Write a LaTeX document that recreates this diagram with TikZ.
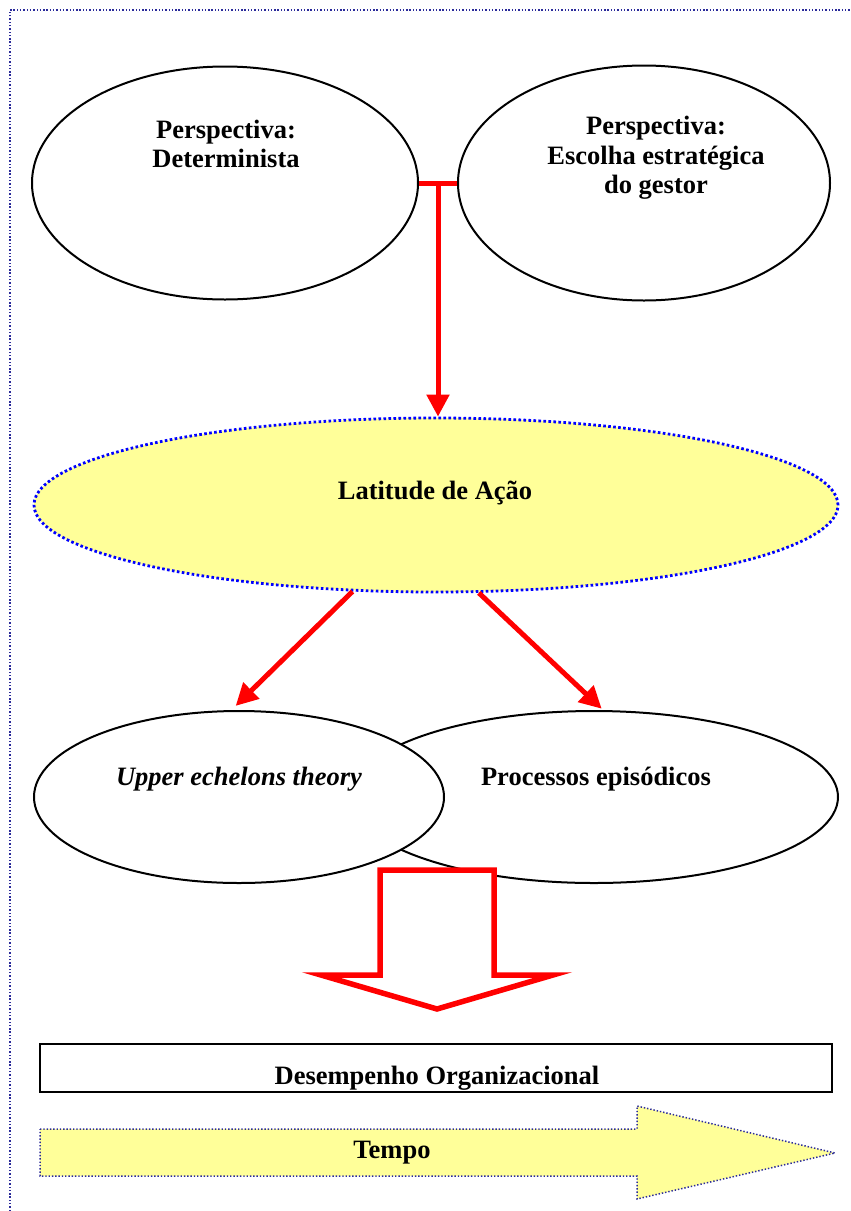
\documentclass[tikz,border=0pt]{standalone}
\usepackage{fontspec}
\setmainfont{Liberation Serif}
\usetikzlibrary{arrows.meta,shapes.geometric}

\definecolor{pagedot}{HTML}{2B2B9A}
\definecolor{latblue}{HTML}{0000FF}
\definecolor{paleyellow}{HTML}{FFFF99}
\definecolor{arrowred}{HTML}{FF0000}

\tikzset{
  bubble/.style={ellipse, draw=black, line width=2pt, fill=white, inner sep=0pt},
  caption/.style={font=\fontsize{26.5}{29.5}\selectfont\bfseries, align=center, inner sep=0pt},
  redline/.style={draw=arrowred, line width=5pt},
  redarrow/.style={redline, -{Triangle[length=22pt,width=22pt]}},
  dotframe/.style={draw=pagedot, line width=1.7pt, dash pattern=on 1.4pt off 1.9pt},
  latframe/.style={draw=latblue, line width=2.8pt, dash pattern=on 2.6pt off 2.4pt},
  blockarrow/.style={draw=arrowred, line width=5.5pt, fill=white, line join=miter},
  timearrow/.style={draw=pagedot, fill=paleyellow, line width=1.5pt, dash pattern=on 1.4pt off 1.9pt},
}

\begin{document}
\begin{tikzpicture}[x=1pt, y=-1pt]
  \useasboundingbox (0,0) rectangle (851,1211);

  % the two perspectives
  \node[bubble, minimum width=386pt, minimum height=233pt] (det) at (225,183) {};
  \node[bubble, minimum width=372pt, minimum height=235pt] (esc) at (644,183) {};
  \node[caption] (detText) at (226,144) {Perspectiva:\\Determinista};
  \node[caption] (escText) at (656,158) {Perspectiva:\\Escolha estratégica\\do gestor};

  % T-junction between the perspectives, feeding the latitude of action
  \draw[redline] (det.east) -- coordinate[midway] (tj) (esc.west);

  % latitude of action
  \node[ellipse, latframe, fill=paleyellow, inner sep=0pt,
        minimum width=804pt, minimum height=174pt] (lat) at (436,505) {};
  \node[caption] (latText) at (435,493) {Latitude de Ação};

  \draw[redarrow] (tj) -- (tj |- lat.north);

  % the two explanatory streams
  \node[bubble, minimum width=488pt, minimum height=172pt] (proc) at (594,797) {};
  \node[bubble, minimum width=410pt, minimum height=172pt] (upper) at (239,797) {};
  \node[caption] (upperText) at (239,779) {\itshape Upper echelons theory};
  \node[caption] (procText) at (596,779) {Processos episódicos};

  \draw[redarrow, shorten >=6pt] (lat.226) -- (upper.95);
  \draw[redarrow, shorten >=2pt] (lat.296) -- (proc.84);

  % block arrow down to performance
  \draw[blockarrow] (380,870) -- (494,870) -- (494,975) -- (553,975)
        -- (437,1009) -- (321,975) -- (380,975) -- cycle;

  % organisational performance
  \node[rectangle, draw=black, line width=2.2pt, minimum width=792pt,
        minimum height=48pt, inner sep=0pt] (perf) at (436,1068) {};
  \node[caption] (perfText) at (437,1078) {Desempenho Organizacional};

  % time arrow
  \draw[timearrow] (40,1129) -- (637,1129) -- (637,1106) -- (835,1153)
        -- (637,1199) -- (637,1176) -- (40,1176) -- cycle;
  \node[caption] (timeText) at (392,1153) {Tempo};

  % page frame (top and left edges)
  \draw[dotframe] (10,1211) -- (10,10) -- (851,10);
\end{tikzpicture}
\end{document}
